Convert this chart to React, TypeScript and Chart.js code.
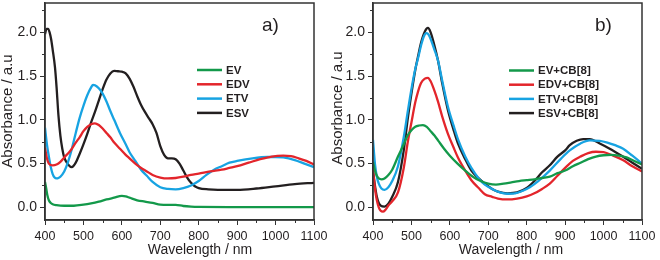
import React, { useEffect, useRef } from 'react';
import { Chart, registerables } from 'chart.js';

Chart.register(...registerables);

// ---------- Panel a) data ----------
const wlEV = [400, 403, 406, 410, 415, 420, 430, 450, 475, 500, 520, 540, 560, 580, 600, 610, 620, 640, 660, 680, 700, 720, 740, 760, 780, 800, 900, 1000, 1100];
const absEV = [0.29, 0.22, 0.14, 0.08, 0.05, 0.035, 0.025, 0.018, 0.018, 0.03, 0.045, 0.065, 0.09, 0.11, 0.13, 0.125, 0.11, 0.08, 0.065, 0.05, 0.03, 0.028, 0.028, 0.015, 0.008, 0.005, 0.003, 0.002, 0.002];

const wlEDV = [400, 405, 410, 420, 430, 440, 450, 465, 480, 490, 500, 510, 520, 530, 540, 550, 560, 570, 580, 595, 610, 620, 635, 650, 665, 680, 700, 720, 740, 760, 780, 800, 830, 860, 880, 900, 930, 960, 990, 1020, 1040, 1060, 1080, 1100];
const absEDV = [0.68, 0.56, 0.5, 0.48, 0.49, 0.52, 0.57, 0.64, 0.74, 0.8, 0.87, 0.92, 0.95, 0.96, 0.94, 0.9, 0.85, 0.8, 0.74, 0.67, 0.6, 0.56, 0.5, 0.45, 0.41, 0.37, 0.34, 0.33, 0.335, 0.35, 0.37, 0.385, 0.41, 0.43, 0.45, 0.47, 0.51, 0.55, 0.58, 0.59, 0.585, 0.56, 0.53, 0.49];

const wlETV = [400, 405, 410, 415, 420, 425, 430, 435, 440, 450, 460, 470, 480, 490, 500, 510, 520, 525, 530, 540, 550, 560, 570, 580, 595, 610, 620, 635, 650, 665, 680, 700, 720, 740, 760, 780, 800, 820, 840, 860, 880, 900, 940, 980, 1000, 1020, 1050, 1075, 1100];
const absETV = [0.91, 0.72, 0.58, 0.46, 0.38, 0.34, 0.33, 0.335, 0.35, 0.41, 0.52, 0.67, 0.85, 1.02, 1.16, 1.28, 1.37, 1.4, 1.395, 1.36, 1.3, 1.21, 1.1, 1.0, 0.85, 0.72, 0.63, 0.53, 0.43, 0.36, 0.29, 0.23, 0.21, 0.205, 0.22, 0.25, 0.3, 0.37, 0.43, 0.47, 0.51, 0.53, 0.56, 0.575, 0.575, 0.57, 0.54, 0.5, 0.46];

const wlESV = [400, 404, 408, 412, 416, 420, 426, 430, 435, 440, 445, 450, 460, 470, 480, 490, 500, 510, 520, 530, 540, 550, 560, 570, 580, 590, 600, 610, 620, 630, 640, 650, 660, 670, 680, 690, 700, 710, 720, 730, 740, 750, 760, 770, 780, 790, 800, 825, 850, 900, 950, 1000, 1050, 1100];
const absESV = [1.98, 2.04, 2.04, 2.0, 1.92, 1.8, 1.6, 1.38, 1.05, 0.82, 0.67, 0.57, 0.49, 0.46, 0.51, 0.61, 0.72, 0.84, 0.97, 1.09, 1.22, 1.35, 1.46, 1.53, 1.56, 1.555, 1.55, 1.53, 1.47, 1.38, 1.27, 1.17, 1.09, 1.02, 0.95, 0.85, 0.7, 0.6, 0.56, 0.56, 0.55, 0.5, 0.42, 0.34, 0.28, 0.24, 0.22, 0.205, 0.2, 0.2, 0.215, 0.24, 0.265, 0.28];

// ---------- Panel b) data ----------
const wlEVCB = [400, 405, 410, 415, 422, 430, 440, 450, 465, 480, 490, 500, 510, 520, 530, 540, 550, 560, 570, 585, 600, 620, 640, 660, 680, 700, 720, 740, 760, 780, 800, 820, 840, 860, 880, 900, 920, 940, 960, 980, 1000, 1020, 1040, 1060, 1080, 1100];
const absEVCB = [0.52, 0.42, 0.36, 0.33, 0.32, 0.33, 0.37, 0.43, 0.58, 0.72, 0.82, 0.88, 0.92, 0.935, 0.94, 0.92, 0.87, 0.82, 0.76, 0.67, 0.59, 0.5, 0.42, 0.35, 0.3, 0.27, 0.26, 0.27, 0.285, 0.3, 0.31, 0.32, 0.335, 0.35, 0.39, 0.42, 0.47, 0.51, 0.55, 0.58, 0.595, 0.6, 0.59, 0.57, 0.53, 0.49];

const wlEDVCB = [400, 405, 410, 415, 420, 426, 432, 440, 450, 465, 480, 491, 500, 510, 517, 525, 535, 543, 550, 560, 569, 580, 595, 610, 621, 640, 656, 675, 691, 710, 725, 750, 775, 800, 820, 840, 860, 880, 900, 920, 940, 960, 980, 1000, 1025, 1050, 1075, 1100];
const absEDVCB = [0.43, 0.22, 0.08, 0.0, -0.04, -0.05, -0.03, 0.02, 0.07, 0.17, 0.45, 0.76, 0.97, 1.2, 1.32, 1.42, 1.47, 1.48, 1.44, 1.33, 1.21, 1.04, 0.84, 0.68, 0.57, 0.42, 0.31, 0.22, 0.15, 0.12, 0.1, 0.09, 0.1, 0.125, 0.16, 0.21, 0.27, 0.36, 0.45, 0.53, 0.58, 0.62, 0.635, 0.63, 0.59, 0.54, 0.47, 0.41];

const wlETVCB = [400, 405, 410, 415, 422, 430, 440, 450, 465, 480, 491, 500, 510, 517, 525, 532, 539, 545, 552, 560, 569, 580, 595, 610, 621, 640, 656, 675, 691, 710, 730, 750, 770, 790, 808, 830, 860, 890, 912, 940, 964, 990, 1010, 1030, 1051, 1075, 1100];
const absETVCB = [0.77, 0.5, 0.35, 0.27, 0.215, 0.2, 0.23, 0.3, 0.47, 0.8, 1.11, 1.35, 1.58, 1.7, 1.85, 1.95, 1.99, 1.97, 1.9, 1.8, 1.68, 1.45, 1.15, 0.93, 0.78, 0.58, 0.45, 0.33, 0.26, 0.21, 0.17, 0.155, 0.16, 0.19, 0.23, 0.3, 0.42, 0.56, 0.65, 0.73, 0.765, 0.76, 0.74, 0.71, 0.67, 0.59, 0.5];

const wlESVCB = [400, 405, 410, 415, 420, 430, 440, 450, 465, 480, 491, 500, 510, 517, 525, 535, 543, 550, 558, 569, 580, 595, 610, 621, 640, 656, 675, 691, 710, 725, 750, 775, 800, 820, 840, 860, 880, 900, 912, 930, 947, 964, 990, 1016, 1050, 1075, 1100];
const absESVCB = [0.42, 0.25, 0.12, 0.05, 0.02, 0.008, 0.04, 0.12, 0.29, 0.65, 1.03, 1.3, 1.57, 1.72, 1.88, 2.01, 2.05, 2.0, 1.88, 1.68, 1.42, 1.11, 0.88, 0.73, 0.55, 0.42, 0.33, 0.27, 0.21, 0.18, 0.16, 0.17, 0.22, 0.3, 0.4, 0.48, 0.58, 0.65, 0.71, 0.76, 0.78, 0.78, 0.73, 0.67, 0.58, 0.51, 0.44];

// ---------- Axes ----------
const xTicks = [400, 500, 600, 700, 800, 900, 1000, 1100];
const xMinorTicks = [450, 550, 650, 750, 850, 950, 1050];
const yTicks = [0, 0.5, 1.0, 1.5, 2.0];
const yMinorTicks = [0.25, 0.75, 1.25, 1.75, 2.25];

const labelsA = ['EV', 'EDV', 'ETV', 'ESV'];
const labelsB = ['EV+CB[8]', 'EDV+CB[8]', 'ETV+CB[8]', 'ESV+CB[8]'];

const COLORS = ['#13994a', '#e3252b', '#17a3e2', '#231f20'];
const FONT = 'Liberation Sans, Arial, Helvetica, sans-serif';
const TEXT = '#231f20';

function toXY(wl: number[], a: number[]) {
  return wl.map((w, i) => ({ x: w, y: a[i] }));
}

const decorPlugin = {
  id: 'decor',
  afterDraw(chart: any, _args: any, opts: any) {
    const { ctx, chartArea: a, scales } = chart;
    ctx.save();
    // frame
    ctx.strokeStyle = '#333';
    ctx.lineWidth = 1.5;
    ctx.strokeRect(a.left, a.top, a.right - a.left, a.bottom - a.top);
    // minor ticks
    ctx.lineWidth = 1;
    ctx.beginPath();
    for (const v of xMinorTicks) {
      const px = Math.round(scales.x.getPixelForValue(v)) + 0.5;
      ctx.moveTo(px, a.bottom);
      ctx.lineTo(px, a.bottom + 3);
    }
    for (const v of yMinorTicks) {
      const py = Math.round(scales.y.getPixelForValue(v)) + 0.5;
      ctx.moveTo(a.left, py);
      ctx.lineTo(a.left - 3, py);
    }
    ctx.stroke();
    // legend
    chart.data.datasets.forEach((ds: any, i: number) => {
      const y = opts.legendY + i * opts.legendStep;
      ctx.strokeStyle = ds.borderColor;
      ctx.lineWidth = 2.5;
      ctx.beginPath();
      ctx.moveTo(opts.legendX, y);
      ctx.lineTo(opts.legendX + 25, y);
      ctx.stroke();
      ctx.fillStyle = TEXT;
      ctx.font = `bold 11.5px ${FONT}`;
      ctx.textBaseline = 'middle';
      ctx.textAlign = 'left';
      ctx.fillText(ds.label, opts.legendX + 29, y + 0.5);
    });
    // panel label
    ctx.fillStyle = TEXT;
    ctx.font = `19px ${FONT}`;
    ctx.textBaseline = 'middle';
    ctx.textAlign = 'left';
    ctx.fillText(opts.panel, opts.panelX, 26);
    // axis titles
    ctx.font = `14px ${FONT}`;
    ctx.textAlign = 'center';
    ctx.fillText('Wavelength / nm', opts.xTitleX, 250);
    ctx.save();
    ctx.translate(8, opts.yTitleY);
    ctx.rotate(-Math.PI / 2);
    ctx.font = `15px ${FONT}`;
    ctx.fillText('Absorbance / a.u', 0, 0);
    ctx.restore();
    ctx.restore();
  },
};

function makeChart(canvas: HTMLCanvasElement, labels: string[], series: { x: number; y: number }[][], p: any) {
  return new Chart(canvas, {
    type: 'line',
    data: {
      datasets: series.map((d, i) => ({
        label: labels[i],
        data: d,
        borderColor: COLORS[i],
        borderWidth: 2.3,
        pointRadius: 0,
        tension: 0.4,
        cubicInterpolationMode: 'monotone' as const,
        fill: false,
      })),
    },
    options: {
      animation: false,
      responsive: false,
      devicePixelRatio: 1,
      layout: { padding: { left: 0, right: p.padRight, top: 3, bottom: 0 } },
      plugins: {
        legend: { display: false },
        tooltip: { enabled: false },
        decor: p,
      } as any,
      scales: {
        x: {
          type: 'linear',
          min: 400,
          max: 1100,
          afterBuildTicks: (s: any) => {
            s.ticks = xTicks.map((v) => ({ value: v }));
          },
          afterFit: (s: any) => {
            s.height = 40;
            s.paddingLeft = 0;
            s.paddingRight = 0;
          },
          grid: { drawOnChartArea: false, drawTicks: true, tickLength: 5, color: '#333', lineWidth: 1 },
          border: { display: true, color: '#333', width: 1.5 },
          ticks: {
            padding: 4,
            color: TEXT,
            font: { family: FONT, size: 12.5 },
            maxRotation: 0,
            autoSkip: false,
            callback: (v: any) => String(v),
          },
        },
        y: {
          type: 'linear',
          min: -0.145,
          max: 2.335,
          afterBuildTicks: (s: any) => {
            s.ticks = yTicks.map((v) => ({ value: v }));
          },
          afterFit: (s: any) => {
            s.width = p.yWidth;
            s.paddingTop = 0;
            s.paddingBottom = 0;
          },
          grid: { drawOnChartArea: false, drawTicks: true, tickLength: 5, color: '#333', lineWidth: 1 },
          border: { display: true, color: '#333', width: 1.5 },
          ticks: {
            padding: 3,
            color: TEXT,
            font: { family: FONT, size: 14 },
            autoSkip: false,
            callback: (v: any) => Number(v).toFixed(1),
          },
        },
      },
    },
    plugins: [decorPlugin],
  } as any);
}

function Panel({ which }: { which: 'a' | 'b' }) {
  const ref = useRef<HTMLCanvasElement>(null);
  useEffect(() => {
    if (!ref.current) return;
    let chart: Chart;
    if (which === 'a') {
      chart = makeChart(
        ref.current,
        labelsA,
        [toXY(wlEV, absEV), toXY(wlEDV, absEDV), toXY(wlETV, absETV), toXY(wlESV, absESV)],
        { padRight: 16, yWidth: 45, legendX: 197, legendY: 70, legendStep: 14.3, panel: 'a)', panelX: 262, xTitleX: 200, yTitleY: 111 }
      );
    } else {
      chart = makeChart(
        ref.current,
        labelsB,
        [toXY(wlEVCB, absEVCB), toXY(wlEDVCB, absEDVCB), toXY(wlETVCB, absETVCB), toXY(wlESVCB, absESVCB)],
        { padRight: 18, yWidth: 43, legendX: 179, legendY: 70.5, legendStep: 14.2, panel: 'b)', panelX: 265, xTitleX: 181, yTitleY: 108 }
      );
    }
    return () => chart.destroy();
  }, [which]);
  return <canvas ref={ref} width={330} height={260} style={{ display: 'block', width: 330, height: 260 }} />;
}

export default function App() {
  return (
    <div style={{ position: 'absolute', left: 0, top: 0, width: 660, height: 260, background: '#fff', display: 'flex' }}>
      <Panel which="a" />
      <Panel which="b" />
    </div>
  );
}
